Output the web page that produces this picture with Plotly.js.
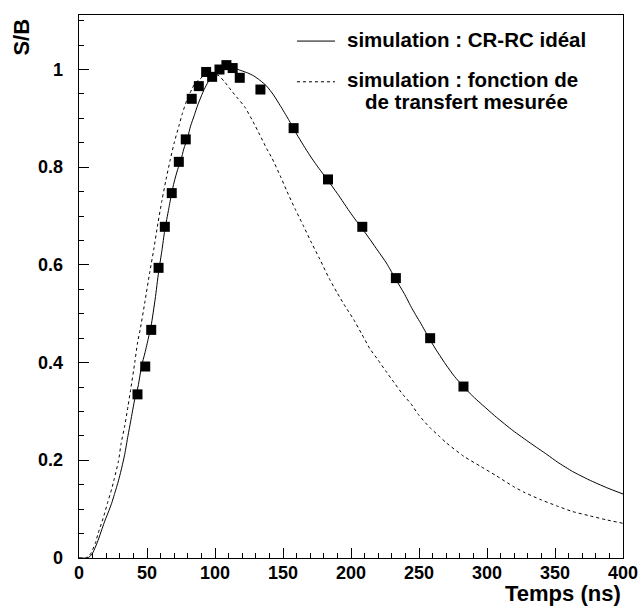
<!DOCTYPE html>
<html>
<head>
<meta charset="utf-8">
<script src="https://cdn.plot.ly/plotly-3.0.1.min.js"></script>
<style>html,body{margin:0;padding:0;background:#fff;}#chart{width:639px;height:607px;}</style>
</head>
<body>
<div id="chart"></div>
<script>
// Simulation : CR-RC idéal (solid)
const tIdeal = [0, 6, 8, 10, 12, 14, 17, 19, 22, 24, 26, 29, 31, 33.6, 36, 38, 41, 43.5, 46, 48.5, 51, 53, 56, 58.5, 61, 63, 66, 68, 70, 72.5, 75, 77, 80, 82, 85, 87, 90, 92, 95, 97, 100, 103, 106, 109, 112, 115, 119, 124, 128.5, 133, 138, 143, 148, 154, 160, 165, 170, 175, 183, 190, 200, 208, 214, 220, 226, 233, 239, 245, 252, 258, 264, 270, 276, 283, 290, 300, 307, 319, 332, 344, 352, 363, 375, 388, 400];
const sIdeal = [0, 0, 0.003, 0.010, 0.022, 0.036, 0.060, 0.076, 0.097, 0.112, 0.130, 0.158, 0.180, 0.212, 0.250, 0.280, 0.325, 0.352, 0.393, 0.420, 0.450, 0.475, 0.530, 0.585, 0.630, 0.670, 0.715, 0.745, 0.770, 0.795, 0.815, 0.837, 0.862, 0.884, 0.908, 0.925, 0.946, 0.959, 0.975, 0.984, 0.993, 0.999, 1.003, 1.004, 1.004, 1.002, 0.998, 0.993, 0.987, 0.978, 0.966, 0.948, 0.926, 0.898, 0.868, 0.845, 0.823, 0.803, 0.773, 0.746, 0.705, 0.675, 0.652, 0.628, 0.604, 0.570, 0.542, 0.510, 0.477, 0.447, 0.420, 0.395, 0.372, 0.350, 0.330, 0.305, 0.288, 0.261, 0.235, 0.212, 0.196, 0.177, 0.160, 0.144, 0.131];

// Simulation : fonction de transfert mesurée (dashed)
const tMes = [0, 5, 7, 9, 12, 14, 17, 19, 21, 24, 26, 29, 31, 33.6, 36, 38, 41, 43, 45, 48.5, 52, 55, 58, 61, 64, 67, 70, 73.4, 76, 79.5, 83, 85.6, 88, 92, 96, 100, 103, 107, 112, 117, 122, 128, 133, 138, 142, 148, 153, 159, 165, 171, 177, 184, 190, 196, 202, 208, 214, 220, 226, 232, 238, 244, 250, 258, 265, 270, 283, 295, 307, 319, 327, 339, 351, 363, 376, 388, 400];
const sMes = [0, 0, 0.003, 0.011, 0.030, 0.050, 0.075, 0.093, 0.113, 0.141, 0.163, 0.198, 0.235, 0.270, 0.310, 0.345, 0.400, 0.440, 0.468, 0.525, 0.585, 0.632, 0.685, 0.732, 0.775, 0.814, 0.850, 0.884, 0.910, 0.939, 0.960, 0.973, 0.978, 0.988, 0.992, 0.991, 0.987, 0.975, 0.957, 0.940, 0.923, 0.893, 0.866, 0.838, 0.818, 0.782, 0.750, 0.714, 0.680, 0.645, 0.612, 0.572, 0.542, 0.514, 0.488, 0.458, 0.428, 0.405, 0.381, 0.358, 0.335, 0.316, 0.292, 0.267, 0.249, 0.236, 0.208, 0.188, 0.168, 0.147, 0.135, 0.120, 0.107, 0.095, 0.086, 0.078, 0.071];

// Mesures (squares)
const tData = [43.0, 48.7, 53.1, 58.5, 63.1, 68.2, 73.4, 78.5, 82.9, 88.1, 93.5, 97.9, 103.3, 108.4, 113.0, 118.2, 133.4, 157.8, 183.1, 208.3, 233.0, 258.2, 282.7];
const sData = [0.335, 0.392, 0.467, 0.594, 0.678, 0.747, 0.811, 0.857, 0.940, 0.966, 0.995, 0.985, 1.000, 1.009, 1.003, 0.983, 0.959, 0.880, 0.775, 0.678, 0.573, 0.450, 0.351];

// Tick labels
const xTickVals = [0, 50, 100, 150, 200, 250, 300, 350, 400];
const xTickText = ['0', '50', '100', '150', '200', '250', '300', '350', '400'];
const yTickVals = [0, 0.2, 0.4, 0.6, 0.8, 1];
const yTickText = ['0', '0.2', '0.4', '0.6', '0.8', '1'];

const legendLabels = ['simulation : CR-RC idéal', 'simulation : fonction de', 'de transfert mesurée'];
const xTitle = 'Temps (ns)';
const yTitle = 'S/B';

const F = 'Liberation Sans, Arial, Helvetica, sans-serif';
const b = s => '<b>' + s + '</b>';

const traces = [
  {x: tMes, y: sMes, type: 'scatter', mode: 'lines', line: {color: '#000', width: 1, dash: '3px,3px', shape: 'spline', smoothing: 0.6}, showlegend: false, hoverinfo: 'skip'},
  {x: tIdeal, y: sIdeal, type: 'scatter', mode: 'lines', line: {color: '#000', width: 1, shape: 'spline', smoothing: 0.6}, showlegend: false, hoverinfo: 'skip'},
  {x: tData, y: sData, type: 'scatter', mode: 'markers', marker: {symbol: 'square', size: 10, color: '#000'}, showlegend: false, hoverinfo: 'skip'}
];

const ax = {
  showgrid: false, zeroline: false, showline: true, linecolor: '#000', linewidth: 1, mirror: true,
  ticks: 'inside', ticklen: 10, tickwidth: 1, tickcolor: '#000', showticklabels: false
};

const tickFont = {family: F, size: 18, color: '#000'};
const tickAnn = [];
xTickVals.forEach((v, i) => tickAnn.push({xref: 'x', yref: 'paper', x: v, y: -0.0276, xanchor: 'center', yanchor: 'middle', showarrow: false, text: b(xTickText[i]), font: tickFont}));
yTickVals.forEach((v, i) => tickAnn.push({xref: 'paper', yref: 'y', x: -0.0257, y: v, xanchor: 'right', yanchor: 'middle', showarrow: false, text: b(yTickText[i]), font: tickFont}));

const layout = {
  width: 639, height: 607,
  margin: {l: 79, r: 16, t: 15, b: 49, pad: 0},
  paper_bgcolor: '#fff', plot_bgcolor: '#fff',
  showlegend: false,
  xaxis: Object.assign({}, ax, {range: [0, 400], tickmode: 'array', tickvals: xTickVals,
    minor: {dtick: 10, tick0: 0, ticks: 'inside', ticklen: 5, tickcolor: '#000', tickwidth: 1, showgrid: false}}),
  yaxis: Object.assign({}, ax, {range: [0, 1.1116], tickmode: 'array', tickvals: yTickVals,
    minor: {dtick: 0.05, tick0: 0, ticks: 'inside', ticklen: 5, tickcolor: '#000', tickwidth: 1, showgrid: false}}),
  shapes: [
    {type: 'line', xref: 'paper', yref: 'paper', x0: 0.4007, x1: 0.4706, y0: 0.952, y1: 0.952, line: {color: '#000', width: 1}},
    {type: 'line', xref: 'paper', yref: 'paper', x0: 0.4007, x1: 0.4706, y0: 0.877, y1: 0.877, line: {color: '#000', width: 1, dash: '3px,3px'}}
  ],
  annotations: tickAnn.concat([
    {xref: 'paper', yref: 'paper', x: 0.489, y: 0.955, xanchor: 'left', yanchor: 'middle', showarrow: false, text: b(legendLabels[0]), font: {family: F, size: 20.5, color: '#000'}},
    {xref: 'paper', yref: 'paper', x: 0.489, y: 0.882, xanchor: 'left', yanchor: 'middle', showarrow: false, text: b(legendLabels[1]), font: {family: F, size: 20.5, color: '#000'}},
    {xref: 'paper', yref: 'paper', x: 0.522, y: 0.840, xanchor: 'left', yanchor: 'middle', showarrow: false, text: b(legendLabels[2]), font: {family: F, size: 20.5, color: '#000'}},
    {xref: 'paper', yref: 'paper', x: 1.0, y: -0.0655, xanchor: 'right', yanchor: 'middle', showarrow: false, text: b(xTitle), font: {family: F, size: 22, color: '#000'}},
    {xref: 'paper', yref: 'paper', x: -0.105, y: 0.96, xanchor: 'center', yanchor: 'middle', textangle: -90, showarrow: false, text: b(yTitle), font: {family: F, size: 22, color: '#000'}}
  ])
};

Plotly.newPlot('chart', traces, layout, {staticPlot: true, displayModeBar: false});
</script>
</body>
</html>
